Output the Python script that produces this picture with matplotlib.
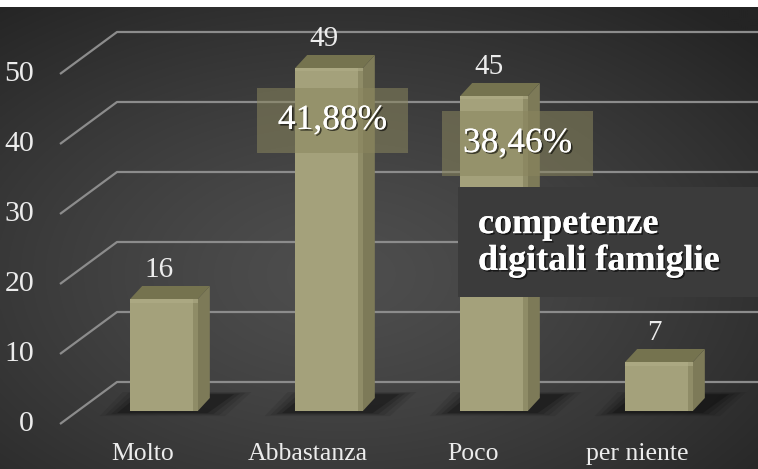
import numpy as np
import matplotlib
matplotlib.use("Agg")
import matplotlib.pyplot as plt
from matplotlib.patches import Polygon, Rectangle
import matplotlib.patheffects as pe

# ---- data ----
categories = ["Molto", "Abbastanza", "Poco", "per niente"]
values = [16, 49, 45, 7]
pct_labels = ["", "41,88%", "38,46%", ""]
yticks = [0, 10, 20, 30, 40, 50]
title_text = "competenze\ndigitali famiglie"

# ---- style ----
FRONT = "#a4a17b"
SIDE = "#7d7a58"
TOP = "#75734f"
GRID = "#8c8c8c"
TXT = "#ececec"
SERIF = ["Liberation Serif", "DejaVu Serif"]

W, H = 758, 469
fig = plt.figure(figsize=(W / 100, H / 100), dpi=100, facecolor="white")
ax = fig.add_axes([0, 0, 1, 462 / H])
ax.set_xlim(-164 / 165, (W - 164) / 165)
ax.set_ylim((411 - 469) / 7, (411 - 7) / 7)
ax.axis("off")

# background radial gradient
ny, nx = 300, 480
yy, xx = np.mgrid[0:1:ny * 1j, 0:1:nx * 1j]
r = np.sqrt(((xx - 0.45) / 0.75) ** 2 + ((yy - 0.42) / 0.75) ** 2)
r = np.clip(r, 0, 1)
c0 = np.array([0x4e, 0x4e, 0x4e]) / 255
c1 = np.array([0x24, 0x24, 0x24]) / 255
img = c0[None, None, :] * (1 - r[..., None] ** 1.3) + c1[None, None, :] * (r[..., None] ** 1.3)
ax.imshow(img, extent=[0, 1, 0, 1], transform=ax.transAxes, origin="lower",
          aspect="auto", zorder=0, interpolation="bilinear")

# perspective gridlines
back_dy = 29 / 7
front_dy = -13 / 7
x_back = -47 / 165
x_front = -104 / 165
xmax = ax.get_xlim()[1]
for t in yticks:
    ax.plot([x_front, x_back, xmax], [t + front_dy, t + back_dy, t + back_dy],
            color=GRID, lw=1.6, zorder=1, solid_capstyle="butt")
    ax.text(-130 / 165, t + front_dy, str(t), ha="right", va="center",
            fontsize=21.5, color=TXT, family=SERIF, zorder=2)

# bars
bw = 0.41
ddx = 12 / 165
ddy = 13 / 7
xs = np.arange(len(values))
for x, v in zip(xs, values):
    # soft shadow at the foot of each bar
    for k, a in enumerate([0.08, 0.10, 0.14, 0.22]):
        g = (3 - k) * 0.035
        sh = Polygon([(x - bw / 2 - 0.08 - g, -0.3 - g * 4), (x + bw / 2 + 0.06 + g, -0.3 - g * 4),
                      (x + bw / 2 + 0.22 + g, 2.4 + g * 3), (x - bw / 2 + 0.06 - g, 2.4 + g * 3)],
                     closed=True, facecolor="black", edgecolor="none", alpha=a, zorder=2)
        ax.add_patch(sh)
ax.bar(xs, values, width=bw, bottom=0, color=FRONT, edgecolor="none", zorder=4)
for x, v in zip(xs, values):
    side = Polygon([(x + bw / 2, 0), (x + bw / 2 + ddx, ddy), (x + bw / 2 + ddx, v + ddy),
                    (x + bw / 2, v)], closed=True, facecolor=SIDE, edgecolor="none", zorder=3.9)
    top = Polygon([(x - bw / 2, v), (x + bw / 2, v), (x + bw / 2 + ddx, v + ddy),
                   (x - bw / 2 + ddx, v + ddy)], closed=True, facecolor=TOP, edgecolor="none", zorder=3.9)
    ax.add_patch(side)
    ax.add_patch(top)
    # subtle shading on edges of front face
    ax.add_patch(Rectangle((x + bw / 2 - 0.03, 0), 0.03, v, facecolor="#8f8c67",
                           edgecolor="none", zorder=4.1))
    ax.add_patch(Rectangle((x - bw / 2, v - 0.5), bw, 0.5, facecolor="#b0ad87",
                           edgecolor="none", zorder=4.1, alpha=0.6))
    ax.text(x - 0.03, v + 4.1, str(v), ha="center", va="center", fontsize=21,
            color=TXT, family=SERIF, zorder=6)

# category labels
for x, c in zip(xs, categories):
    ax.text(x - 0.13, -6.2, c, ha="center", va="center", fontsize=18.5,
            color=TXT, family=SERIF, zorder=6)

# percentage boxes
shadow = [pe.withSimplePatchShadow(offset=(1.2, -1.2), shadow_rgbFace="black", alpha=0.6), pe.Normal()]
pct_box = {1: (0.564, 1.479, 36.86, 46.14), 2: (1.685, 2.6, 33.57, 42.86)}
for i, lab in enumerate(pct_labels):
    if not lab:
        continue
    x0, x1, y0, y1 = pct_box[i]
    ax.add_patch(Rectangle((x0, y0), x1 - x0, y1 - y0, facecolor="#8a865e", alpha=0.55,
                           edgecolor="none", zorder=5))
    ax.text((x0 + x1) / 2, (y0 + y1) / 2, lab, ha="center", va="center", fontsize=25.5,
            color="white", family=SERIF, zorder=6, path_effects=shadow)

# title box
tx0, ty0, ty1 = 294 / 165, (411 - 297) / 7, (411 - 187) / 7
ax.add_patch(Rectangle((tx0, ty0), xmax - tx0 + 0.1, ty1 - ty0, facecolor="#3b3b3b",
                       edgecolor="none", zorder=7))
ax.text(314 / 165, (411 - 243) / 7, title_text, ha="left", va="center", fontsize=26,
        fontweight="bold", color="white", family=SERIF, linespacing=1.15, zorder=8,
        path_effects=shadow)

fig.savefig("out.png", dpi=100, facecolor="white")
